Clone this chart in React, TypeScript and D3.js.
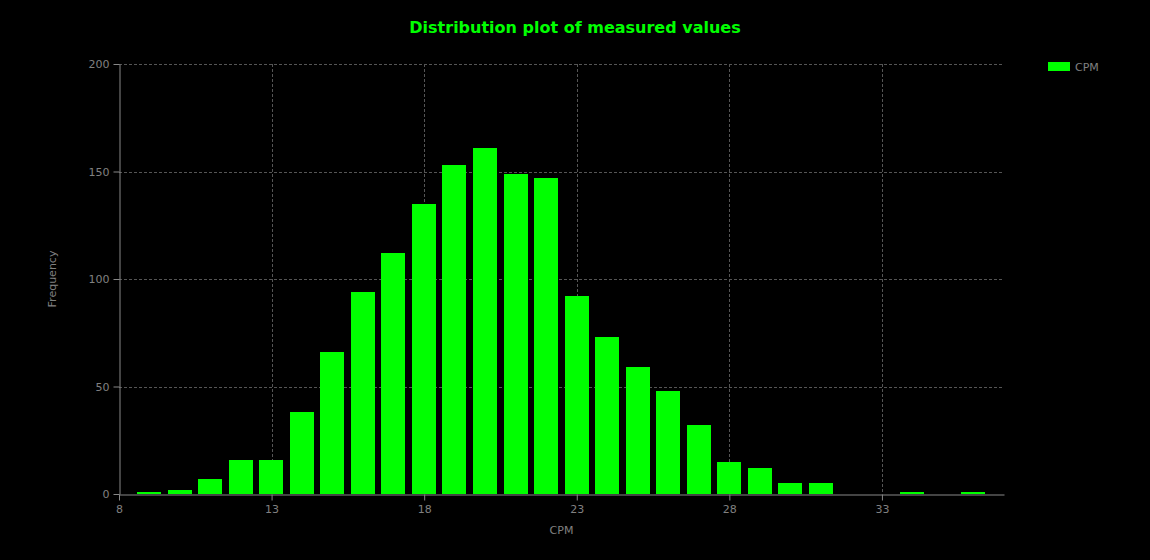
import { useEffect, useRef } from "react";
import * as d3 from "d3";

// histogram of measured CPM values
const cpmBins = [9, 10, 11, 12, 13, 14, 15, 16, 17, 18, 19, 20, 21, 22, 23, 24, 25, 26, 27, 28, 29, 30, 31, 32, 33, 34, 35, 36];
const frequency = [1, 2, 7, 16, 16, 38, 66, 94, 112, 135, 153, 161, 149, 147, 92, 73, 59, 48, 32, 15, 12, 5, 5, 0, 0, 1, 0, 1];
const xTicks = [8, 13, 18, 23, 28, 33];
const yTicks = [0, 50, 100, 150, 200];
const seriesName = "CPM";

const W = 1150;
const H = 560;
const margin = { top: 64, right: 146, bottom: 66, left: 119 };
const GREEN = "#00ff00";
const TEXT = "#808080";
const FONT = "Verdana, 'DejaVu Sans', sans-serif";

export default function App() {
	const ref = useRef<SVGSVGElement | null>(null);

	useEffect(() => {
		const svg = d3.select(ref.current);
		svg.selectAll("*").remove();

		const innerW = W - margin.left - margin.right;
		const innerH = H - margin.top - margin.bottom;

		svg.append("rect").attr("width", W).attr("height", H).attr("fill", "#000");

		const x = d3.scaleLinear().domain([8, 37]).range([0, innerW]);
		const y = d3.scaleLinear().domain([0, 200]).range([innerH, 0]);

		const g = svg.append("g").attr("transform", `translate(${margin.left},${margin.top})`);

		// grid
		g.append("g")
			.selectAll("line")
			.data(yTicks.filter((t) => t > 0))
			.join("line")
			.attr("x1", 0)
			.attr("x2", innerW)
			.attr("y1", (d) => Math.round(y(d)) + 0.5)
			.attr("y2", (d) => Math.round(y(d)) + 0.5)
			.attr("stroke", "#555")
			.attr("stroke-dasharray", "3,2");
		g.append("g")
			.selectAll("line")
			.data(xTicks.filter((t) => t > 8))
			.join("line")
			.attr("x1", (d) => Math.round(x(d)) + 0.5)
			.attr("x2", (d) => Math.round(x(d)) + 0.5)
			.attr("y1", 0)
			.attr("y2", innerH)
			.attr("stroke", "#555")
			.attr("stroke-dasharray", "3,2");

		// bars
		const bw = 0.8 * (x(1) - x(0));
		g.append("g")
			.selectAll("rect")
			.data(cpmBins.map((c, i) => ({ c, v: frequency[i] })))
			.join("rect")
			.attr("x", (d) => Math.round(x(d.c) - bw / 2))
			.attr("width", Math.round(bw))
			.attr("y", (d) => Math.round(y(d.v)))
			.attr("height", (d) => Math.round(innerH) - Math.round(y(d.v)))
			.attr("fill", GREEN);

		// axes
		const xAxis = g
			.append("g")
			.attr("transform", `translate(0,${Math.round(innerH) + 0.5})`)
			.call(d3.axisBottom(x).tickValues(xTicks).tickSize(6).tickSizeOuter(0));
		const yAxis = g
			.append("g")
			.attr("transform", "translate(0.5,0)")
			.call(d3.axisLeft(y).tickValues(yTicks).tickSize(6).tickSizeOuter(0).tickPadding(4));
		[xAxis, yAxis].forEach((a) => {
			a.select(".domain").attr("stroke", "#888");
			a.selectAll(".tick line").attr("stroke", "#888");
			a.selectAll(".tick text")
				.attr("fill", TEXT)
				.attr("font-family", FONT)
				.attr("font-size", 11);
		});
		xAxis.selectAll(".tick text").attr("dy", "0.9em");

		// axis titles
		svg.append("text")
			.attr("x", margin.left + innerW / 2)
			.attr("y", 534)
			.attr("text-anchor", "middle")
			.attr("fill", TEXT)
			.attr("font-family", FONT)
			.attr("font-size", 11)
			.text("CPM");
		svg.append("text")
			.attr("transform", `translate(56,${margin.top + innerH / 2}) rotate(-90)`)
			.attr("text-anchor", "middle")
			.attr("fill", TEXT)
			.attr("font-family", FONT)
			.attr("font-size", 11)
			.text("Frequency");

		// title
		svg.append("text")
			.attr("x", W / 2)
			.attr("y", 33)
			.attr("text-anchor", "middle")
			.attr("fill", GREEN)
			.attr("font-family", FONT)
			.attr("font-weight", "bold")
			.attr("font-size", 16)
			.text("Distribution plot of measured values");

		// legend
		const lg = svg.append("g").attr("transform", "translate(1048,62)");
		lg.append("rect").attr("width", 22).attr("height", 9).attr("fill", GREEN);
		lg.append("text")
			.attr("x", 27)
			.attr("y", 5)
			.attr("dy", "0.35em")
			.attr("fill", TEXT)
			.attr("font-family", FONT)
			.attr("font-size", 11)
			.text(seriesName);
	}, []);

	return (
		<svg
			ref={ref}
			width={W}
			height={H}
			style={{ position: "fixed", left: 0, top: 0, display: "block" }}
		/>
	);
}
